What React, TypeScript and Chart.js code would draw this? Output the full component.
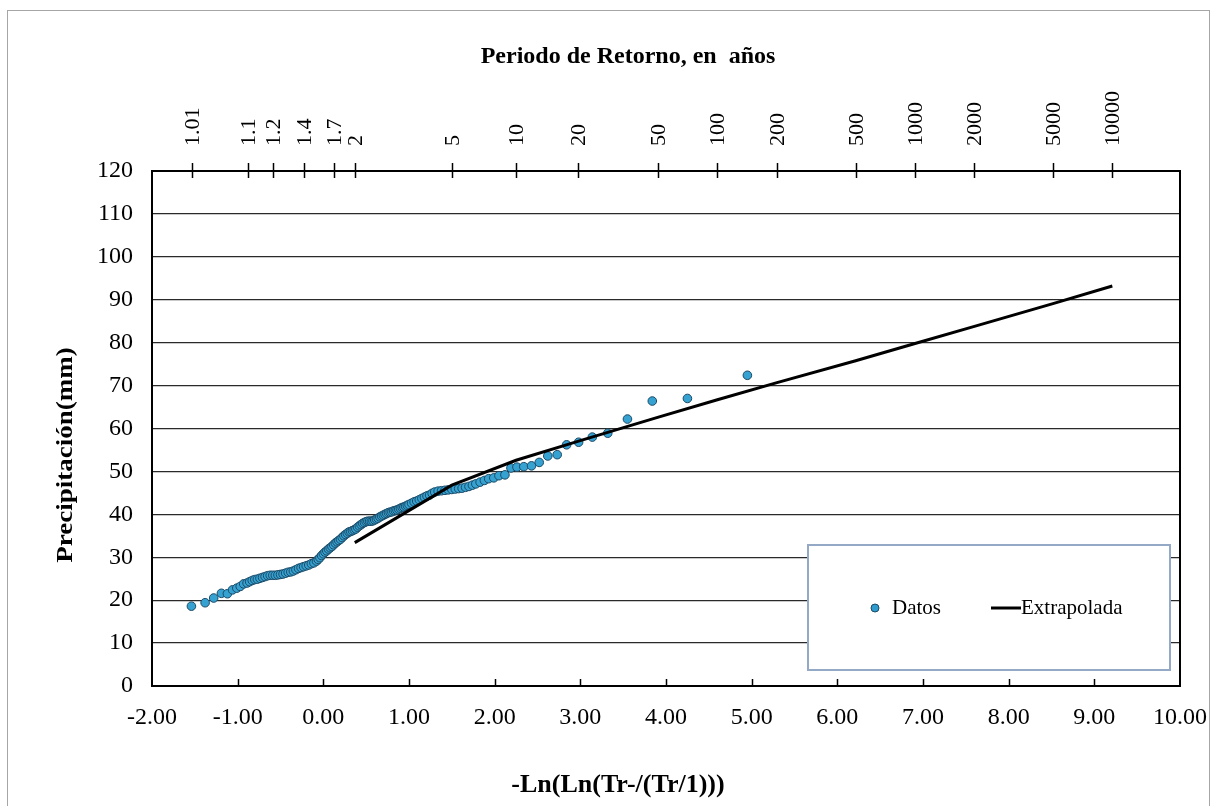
import React, { useEffect, useRef } from 'react';
import { Chart, registerables } from 'chart.js';

Chart.register(...registerables);

const FONT = "'Liberation Serif', 'Times New Roman', serif";

// Observed data (reduced variate, precipitation mm)
const datosX = [
  -1.54, -1.38, -1.28, -1.19, -1.12, -1.06, -1.01, -0.97, -0.93, -0.89,
  -0.86, -0.83, -0.80, -0.77, -0.74, -0.71, -0.68, -0.65, -0.62, -0.59,
  -0.56, -0.53, -0.50, -0.47, -0.44, -0.41, -0.38, -0.35, -0.32, -0.29,
  -0.26, -0.23, -0.20, -0.17, -0.14, -0.11, -0.08, -0.06, -0.04, -0.02,
  0.00, 0.02, 0.04, 0.06, 0.08, 0.10, 0.12, 0.14, 0.16, 0.18,
  0.20, 0.22, 0.24, 0.26, 0.28, 0.30, 0.32, 0.34, 0.36, 0.38,
  0.40, 0.42, 0.44, 0.46, 0.48, 0.50, 0.52, 0.54, 0.56, 0.58,
  0.60, 0.62, 0.64, 0.66, 0.68, 0.70, 0.72, 0.74, 0.76, 0.78,
  0.80, 0.82, 0.84, 0.86, 0.88, 0.90, 0.92, 0.94, 0.96, 0.98,
  1.00, 1.03, 1.06, 1.09, 1.12, 1.15, 1.18, 1.21, 1.24, 1.27,
  1.30, 1.34, 1.38, 1.42, 1.46, 1.50, 1.54, 1.58, 1.62, 1.66,
  1.70, 1.74, 1.78, 1.83, 1.88, 1.93, 1.99, 2.05, 2.12, 2.19,
  2.26, 2.34, 2.43, 2.52, 2.62, 2.73, 2.84, 2.98, 3.14, 3.32,
  3.55, 3.84, 4.25, 4.95,
];
const datosY = [
  18.6, 19.4, 20.5, 21.6, 21.5, 22.4, 22.8, 23.2, 23.8, 24.0,
  24.3, 24.6, 24.8, 24.9, 25.1, 25.3, 25.5, 25.7, 25.8, 25.8,
  25.8, 25.9, 26.0, 26.1, 26.3, 26.5, 26.6, 26.8, 27.1, 27.4,
  27.6, 27.8, 28.0, 28.2, 28.5, 28.7, 29.1, 29.5, 29.9, 30.4,
  30.8, 31.2, 31.5, 31.9, 32.2, 32.5, 32.9, 33.3, 33.6, 33.9,
  34.2, 34.6, 35.0, 35.3, 35.6, 35.9, 36.0, 36.2, 36.4, 36.6,
  37.0, 37.3, 37.6, 37.9, 38.1, 38.3, 38.4, 38.4, 38.4, 38.5,
  38.7, 38.9, 39.1, 39.4, 39.6, 39.8, 40.0, 40.2, 40.4, 40.5,
  40.6, 40.8, 40.9, 41.0, 41.2, 41.4, 41.6, 41.7, 41.9, 42.1,
  42.3, 42.6, 42.9, 43.1, 43.4, 43.7, 44.0, 44.3, 44.5, 44.9,
  45.2, 45.4, 45.5, 45.6, 45.7, 45.8, 45.9, 46.0, 46.1, 46.3,
  46.5, 46.8, 47.1, 47.5, 47.9, 48.3, 48.5, 49.0, 49.2, 50.8,
  51.0, 51.1, 51.3, 52.1, 53.6, 53.9, 56.2, 56.8, 58.0, 58.9,
  62.2, 66.4, 67.0, 72.4,
];

// Extrapolated curve (one vertex per return period 2..10000)
const extrapX = [0.367, 1.5, 2.25, 2.97, 3.902, 4.6, 5.296, 6.214, 6.907, 7.6, 8.517, 9.21];
const extrapY = [33.4, 46.8, 52.6, 57.0, 62.6, 66.7, 70.7, 75.8, 79.8, 83.8, 89.1, 93.2];

// Top axis: return periods (years)
const returnPeriods = [1.01, 1.1, 1.2, 1.4, 1.7, 2, 5, 10, 20, 50, 100, 200, 500, 1000, 2000, 5000, 10000];
const returnPeriodLabels = ['1.01', '1.1', '1.2', '1.4', '1.7', '2', '5', '10', '20', '50', '100', '200', '500', '1000', '2000', '5000', '10000'];

const X_MIN = -2;
const X_MAX = 10;
const Y_MIN = 0;
const Y_MAX = 120;
const Y_STEP = 10;
const X_STEP = 1;

const TITLE_TOP = 'Periodo de Retorno, en  años';
const TITLE_X = '-Ln(Ln(Tr-/(Tr/1)))';
const TITLE_Y = 'Precipitación(mm)';
const LEGEND_DATOS = 'Datos';
const LEGEND_EXTRAP = 'Extrapolada';

const gumbel = (t: number) => -Math.log(Math.log(t / (t - 1)));

const decorPlugin = {
  id: 'decor',
  beforeDraw(chart: any) {
    const ctx = chart.ctx;
    ctx.save();
    ctx.fillStyle = '#ffffff';
    ctx.fillRect(0, 0, chart.width, chart.height);
    ctx.strokeStyle = '#a6a6a6';
    ctx.lineWidth = 1;
    ctx.strokeRect(7.5, 10.5, 1202, 820);
    ctx.restore();
  },
  afterDatasetsDraw(chart: any) {
    const ctx = chart.ctx;
    const ca = chart.chartArea;
    const xs = chart.scales.x;
    const xt = chart.scales.x2;
    ctx.save();
    ctx.strokeStyle = '#000';
    ctx.lineWidth = 1.5;
    // bottom inward ticks
    for (let v = X_MIN + X_STEP; v < X_MAX; v += X_STEP) {
      const px = Math.round(xs.getPixelForValue(v)) + 0.5;
      ctx.beginPath();
      ctx.moveTo(px, ca.bottom);
      ctx.lineTo(px, ca.bottom - 7);
      ctx.stroke();
    }
    // top crossing ticks + rotated return-period labels
    ctx.fillStyle = '#000';
    ctx.font = `22px ${FONT}`;
    ctx.textAlign = 'left';
    ctx.textBaseline = 'middle';
    xt.ticks.forEach((t: any, i: number) => {
      const px = Math.round(xt.getPixelForValue(t.value)) + 0.5;
      ctx.beginPath();
      ctx.moveTo(px, ca.top - 8);
      ctx.lineTo(px, ca.top + 7);
      ctx.stroke();
      ctx.save();
      ctx.translate(px, ca.top - 25);
      ctx.rotate(-Math.PI / 2);
      ctx.fillText(returnPeriodLabels[i], 0, 1);
      ctx.restore();
    });
    // plot frame
    ctx.lineWidth = 2;
    ctx.strokeRect(ca.left, ca.top, ca.right - ca.left, ca.bottom - ca.top);
    ctx.restore();
  },
  afterDraw(chart: any) {
    const ctx = chart.ctx;
    ctx.save();
    ctx.fillStyle = '#000';
    ctx.textAlign = 'center';
    ctx.textBaseline = 'middle';
    ctx.font = `bold 24px ${FONT}`;
    ctx.fillText(TITLE_TOP, 628, 57);
    ctx.font = `bold 26px ${FONT}`;
    ctx.fillText(TITLE_X, 618, 785);
    ctx.save();
    ctx.translate(66, 455);
    ctx.rotate(-Math.PI / 2);
    ctx.scale(1, 0.85);
    ctx.font = `bold 27px ${FONT}`;
    ctx.fillText(TITLE_Y, 0, 0);
    ctx.restore();

    // legend box
    const lx = 808, ly = 545, lw = 362, lh = 125;
    ctx.fillStyle = '#ffffff';
    ctx.fillRect(lx, ly, lw, lh);
    ctx.strokeStyle = '#93a9c6';
    ctx.lineWidth = 2;
    ctx.strokeRect(lx, ly, lw, lh);
    const cy = 608;
    ctx.beginPath();
    ctx.arc(875, cy, 4, 0, Math.PI * 2);
    ctx.fillStyle = '#2f9bcc';
    ctx.fill();
    ctx.strokeStyle = '#1b4a66';
    ctx.lineWidth = 1;
    ctx.stroke();
    ctx.fillStyle = '#000';
    ctx.textAlign = 'left';
    ctx.font = `21px ${FONT}`;
    ctx.fillText(LEGEND_DATOS, 892, cy);
    ctx.strokeStyle = '#000';
    ctx.lineWidth = 3;
    ctx.beginPath();
    ctx.moveTo(991, cy);
    ctx.lineTo(1021, cy);
    ctx.stroke();
    ctx.fillText(LEGEND_EXTRAP, 1021, cy);
    ctx.restore();
  },
};

export default function App() {
  const ref = useRef<HTMLCanvasElement>(null);
  useEffect(() => {
    if (!ref.current) return;
    const chart = new Chart(ref.current, {
      type: 'scatter',
      data: {
        datasets: [
          {
            label: LEGEND_EXTRAP,
            data: extrapX.map((x, i) => ({ x, y: extrapY[i] })),
            showLine: true,
            borderColor: '#000',
            borderWidth: 3,
            pointRadius: 0,
            fill: false,
            tension: 0,
            order: 0,
          },
          {
            label: LEGEND_DATOS,
            data: datosX.map((x, i) => ({ x, y: datosY[i] })),
            backgroundColor: '#36a2d2',
            borderColor: '#1c4a66',
            borderWidth: 1,
            pointRadius: 4.3,
            order: 1,
          },
        ],
      },
      options: {
        responsive: false,
        animation: false,
        devicePixelRatio: 1,
        layout: { padding: { left: 0, right: 35, top: 0, bottom: 0 } },
        plugins: { legend: { display: false }, tooltip: { enabled: false }, title: { display: false } },
        scales: {
          x: {
            type: 'linear',
            position: 'bottom',
            min: X_MIN,
            max: X_MAX,
            grid: { display: false, drawTicks: false },
            border: { display: false },
            afterBuildTicks: (axis: any) => {
              const t = [];
              for (let v = X_MIN; v <= X_MAX; v += X_STEP) t.push({ value: v });
              axis.ticks = t;
            },
            afterFit: (s: any) => {
              s.height = 120;
              s.paddingLeft = 0;
              s.paddingRight = 0;
            },
            ticks: {
              padding: 17,
              color: '#000',
              font: { family: FONT, size: 24 },
              maxRotation: 0,
              autoSkip: false,
              callback: (v: any) => Number(v).toFixed(2),
            },
          },
          x2: {
            type: 'linear',
            position: 'top',
            min: X_MIN,
            max: X_MAX,
            grid: { display: false, drawTicks: false },
            border: { display: false },
            afterBuildTicks: (axis: any) => {
              axis.ticks = returnPeriods.map((t) => ({ value: gumbel(t) }));
            },
            afterFit: (s: any) => {
              s.height = 171;
              s.paddingLeft = 0;
              s.paddingRight = 0;
            },
            ticks: { display: false, autoSkip: false },
          },
          y: {
            type: 'linear',
            min: Y_MIN,
            max: Y_MAX,
            grid: { color: '#2a2a2a', lineWidth: 1.2, drawTicks: false },
            border: { display: false },
            afterFit: (s: any) => {
              s.width = 152;
              s.paddingTop = 0;
              s.paddingBottom = 0;
            },
            ticks: {
              stepSize: Y_STEP,
              padding: 19,
              color: '#000',
              font: { family: FONT, size: 24 },
            },
          },
        },
      },
      plugins: [decorPlugin],
    } as any);
    return () => chart.destroy();
  }, []);
  return (
    <div style={{ position: 'fixed', left: 0, top: 0, width: 1215, height: 806, background: '#fff' }}>
      <canvas ref={ref} width={1215} height={806} style={{ display: 'block', width: 1215, height: 806 }} />
    </div>
  );
}
